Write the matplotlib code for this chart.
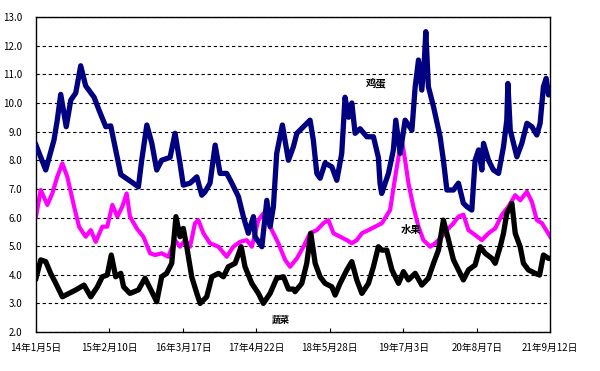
import matplotlib
matplotlib.use("Agg")
import matplotlib.pyplot as plt
from matplotlib.ticker import FormatStrFormatter

plt.rcParams['font.family'] = ['Noto Sans CJK SC', 'DejaVu Sans']

# day offsets counted from 2014-01-05
egg_day = [0, 53, 98, 116, 135, 165, 190, 217, 244, 271, 317, 344, 381, 408, 435, 463,
           531, 559, 577, 605, 632, 659, 686, 732, 759, 786, 804, 841, 878, 905, 923,
           950, 978, 1005, 1041, 1069, 1105, 1132, 1159, 1187, 1196, 1233, 1260, 1278,
           1296, 1314, 1345, 1378, 1405, 1424, 1460, 1496, 1514, 1533, 1551, 1578, 1615,
           1642, 1669, 1687, 1706, 1724, 1742, 1769, 1806, 1842, 1869, 1878, 1887, 1924,
           1951, 1964, 1988, 2015, 2052, 2070, 2088, 2106, 2120, 2128, 2142, 2170, 2206,
           2224, 2243, 2279, 2306, 2333, 2352, 2379, 2397, 2416, 2434, 2443, 2470, 2497,
           2525, 2552, 2570, 2576, 2589, 2625, 2652, 2680, 2707, 2734, 2752, 2770, 2785,
           2798, 2807]
egg_val = [8.53, 7.66, 8.7, 9.4, 10.3, 9.17, 10.1, 10.35, 11.3, 10.6, 10.2, 9.75, 9.17,
           9.2, 8.36, 7.5, 7.2, 7.07, 8.0, 9.23, 8.6, 7.66, 8.0, 8.1, 8.94, 7.9, 7.13,
           7.2, 7.42, 6.78, 6.9, 7.2, 8.53, 7.54, 7.54, 7.2, 6.73, 6.03, 5.45, 6.03, 5.33,
           4.98, 6.6, 5.68, 6.38, 8.24, 9.23, 8.0, 8.47, 8.94, 9.17, 9.4, 8.7, 7.54, 7.37,
           7.9, 7.77, 7.3, 8.24, 10.2, 9.5, 10.0, 8.94, 9.1, 8.82, 8.82, 8.1, 7.2, 6.84,
           7.54, 8.36, 9.4, 8.24, 9.4, 9.05, 10.57, 11.5, 10.45, 11.5, 12.49, 10.57, 9.87,
           8.82, 8.0, 6.96, 6.96, 7.2, 6.5, 6.38, 6.26, 8.0, 8.36, 7.66, 8.59, 8.0, 7.66,
           7.54, 8.47, 9.4, 10.68, 9.05, 8.12, 8.59, 9.29, 9.17, 8.88, 9.29, 10.57, 10.86,
           10.28, 10.5]

fruit_day = [0, 26, 62, 89, 116, 144, 171, 208, 235, 271, 299, 326, 362, 389, 417, 444,
             471, 495, 513, 550, 586, 623, 650, 686, 722, 759, 786, 814, 841, 868, 886,
             914, 950, 996, 1041, 1077, 1114, 1151, 1178, 1214, 1241, 1269, 1296, 1323,
             1360, 1387, 1424, 1460, 1496, 1533, 1569, 1596, 1624, 1660, 1697, 1724, 1751,
             1779, 1815, 1851, 1888, 1933, 1961, 1982, 1997, 2015, 2033, 2060, 2088, 2115,
             2152, 2179, 2216, 2243, 2279, 2306, 2333, 2361, 2397, 2434, 2470, 2507, 2543,
             2579, 2616, 2643, 2680, 2707, 2734, 2762, 2785, 2807]
fruit_val = [6.03, 6.96, 6.44, 6.84, 7.42, 7.89, 7.42, 6.38, 5.68, 5.33, 5.56, 5.15, 5.68,
             5.68, 6.44, 6.03, 6.38, 6.84, 6.03, 5.62, 5.33, 4.75, 4.69, 4.75, 4.63, 5.21,
             4.98, 5.21, 4.98, 5.8, 5.91, 5.45, 5.1, 4.98, 4.63, 4.98, 5.15, 5.21, 4.98,
             5.91, 6.14, 5.8, 5.45, 5.1, 4.52, 4.28, 4.57, 4.98, 5.45, 5.56, 5.8, 5.91,
             5.45, 5.33, 5.21, 5.1, 5.21, 5.45, 5.56, 5.68, 5.8, 6.26, 7.42, 8.24, 8.7, 8.0,
             7.2, 6.38, 5.68, 5.21, 4.98, 5.1, 5.33, 5.56, 5.8, 6.03, 6.1, 5.56, 5.39, 5.21,
             5.45, 5.62, 6.09, 6.38, 6.78, 6.6, 6.9, 6.55, 5.91, 5.8, 5.56, 5.33]

veg_day = [0, 26, 53, 80, 108, 144, 180, 217, 262, 299, 335, 362, 389, 411, 435, 463,
           478, 513, 559, 595, 632, 659, 686, 713, 741, 754, 764, 786, 804, 823, 850, 878,
           896, 932, 960, 996, 1023, 1050, 1087, 1120, 1141, 1178, 1214, 1241, 1278, 1314,
           1351, 1378, 1405, 1414, 1451, 1478, 1500, 1524, 1551, 1578, 1615, 1633, 1660,
           1697, 1724, 1751, 1779, 1815, 1842, 1869, 1888, 1915, 1943, 1979, 2006, 2033,
           2070, 2106, 2142, 2170, 2197, 2224, 2252, 2279, 2306, 2333, 2361, 2397, 2425,
           2452, 2489, 2507, 2534, 2552, 2570, 2598, 2616, 2643, 2661, 2688, 2725, 2749,
           2770, 2798, 2807]
veg_val = [3.88, 4.52, 4.46, 4.05, 3.7, 3.23, 3.35, 3.47, 3.64, 3.23, 3.58, 3.93, 3.99,
           4.69, 3.93, 4.05, 3.58, 3.35, 3.47, 3.88, 3.41, 3.06, 3.93, 4.05, 4.4, 5.33,
           6.03, 5.33, 5.62, 4.98, 3.93, 3.35, 3.0, 3.23, 3.93, 4.05, 3.93, 4.28, 4.4,
           4.98, 4.28, 3.7, 3.35, 3.0, 3.35, 3.88, 3.93, 3.5, 3.5, 3.41, 3.7, 4.4, 5.45,
           4.4, 3.93, 3.7, 3.58, 3.29, 3.7, 4.17, 4.46, 3.82, 3.35, 3.7, 4.28, 4.98, 4.86,
           4.86, 4.17, 3.7, 4.11, 3.82, 4.05, 3.64, 3.88, 4.4, 4.86, 5.91, 5.21, 4.52, 4.17,
           3.82, 4.17, 4.34, 4.98, 4.75, 4.57, 4.4, 4.98, 5.45, 6.14, 6.49, 5.45, 4.98, 4.4,
           4.17, 4.05, 3.99, 4.69, 4.57, 4.57]

tick_days = [0, 401, 802, 1203, 1604, 2005, 2406, 2807]
tick_labels = ["14年1月5日", "15年2月10日", "16年3月17日", "17年4月22日",
               "18年5月28日", "19年7月3日", "20年8月7日", "21年9月12日"]

fig = plt.figure(figsize=(6, 3.71), dpi=100)
ax = fig.add_axes([0.06, 0.105, 0.857, 0.849])

ax.plot(egg_day, egg_val, color="#000080", lw=3.8, solid_joinstyle="round", zorder=3)
ax.plot(fruit_day, fruit_val, color="#FF00FF", lw=3.0, solid_joinstyle="round", zorder=2)
ax.plot(veg_day, veg_val, color="black", lw=3.8, solid_joinstyle="round", zorder=4)

ax.text(1857, 10.7, "鸡蛋", fontsize=7.5, fontweight="black", ha="center", va="center")
ax.text(2048, 5.56, "水果", fontsize=7.5, fontweight="black", ha="center", va="center")
ax.text(1338, 2.42, "蔬菜", fontsize=6.5, fontweight="black", ha="center", va="center")

ax.set_xlim(0, 2807)
ax.set_ylim(2.0, 13.0)
ax.set_yticks([2, 3, 4, 5, 6, 7, 8, 9, 10, 11, 12, 13])
ax.yaxis.set_major_formatter(FormatStrFormatter("%.1f"))
ax.set_xticks(tick_days)
ax.set_xticklabels(tick_labels)
ax.tick_params(axis="x", direction="in", length=3, width=0.8, labelsize=7, pad=8)
ax.tick_params(axis="y", length=0, labelsize=7, pad=10)
ax.grid(axis="y", color="black", linestyle=(0, (3, 2.5)), lw=0.8)
ax.set_axisbelow(True)
for s in ax.spines.values():
    s.set_linewidth(1.0)

fig.savefig("out.png", dpi=100)
